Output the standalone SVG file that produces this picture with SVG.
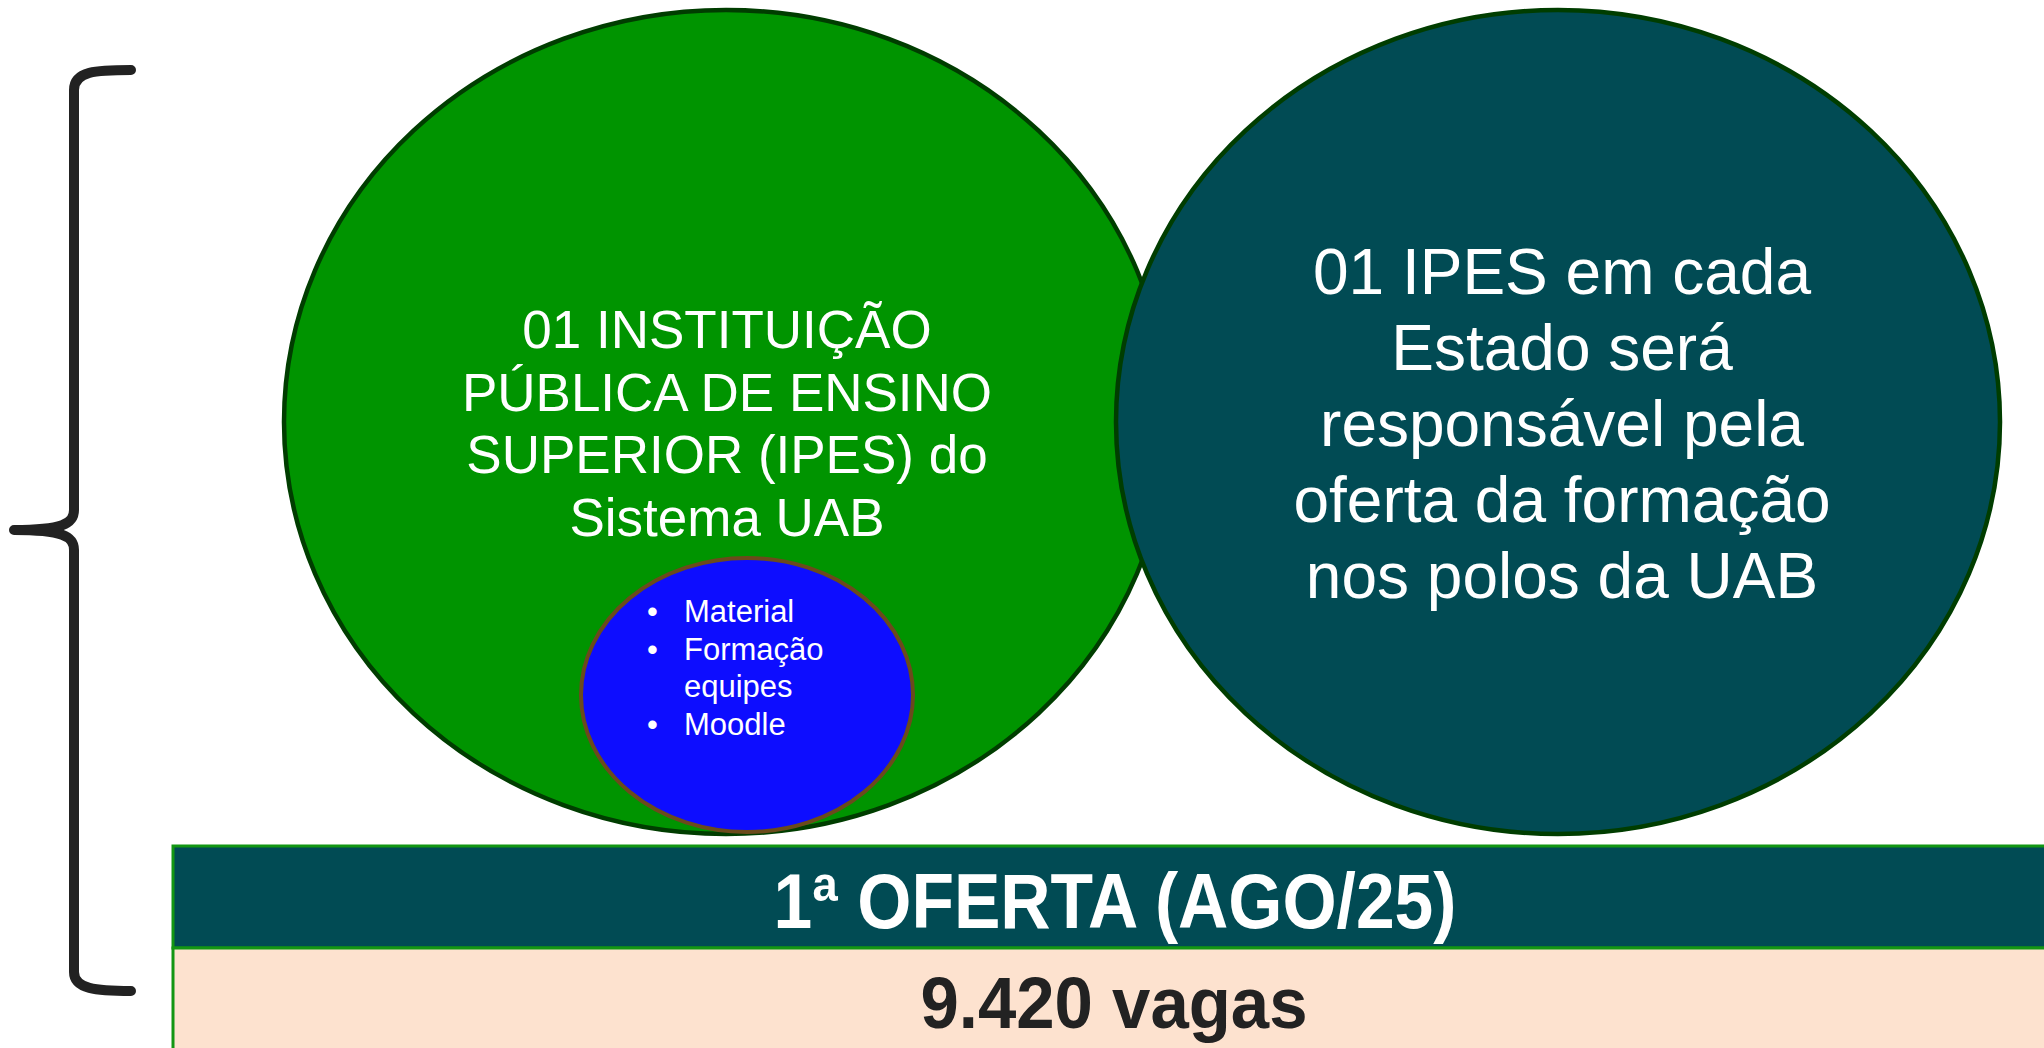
<svg xmlns="http://www.w3.org/2000/svg" width="2044" height="1048" viewBox="0 0 2044 1048">
<style>
.t{font-family:"Liberation Sans",Arial,sans-serif;fill:#ffffff}
.big{font-size:53px;text-anchor:middle}
.teal{font-size:64px;text-anchor:middle}
.bul{font-size:31px}
.ell{stroke:#003d00;stroke-width:4.5}
</style>
<rect width="2044" height="1048" fill="#ffffff"/>
<g id="brace">
<path d="M131,70 C96,70 74,71 74,90 L74,510 C74,524 62,530 14,530 C62,530 74,536 74,550 L74,972 C74,989 96,991 131,991" fill="none" stroke="#222222" stroke-width="10" stroke-linecap="round" stroke-linejoin="round"/>
</g>
<g id="node-ipes-uab">
<ellipse class="ell" cx="726" cy="422" rx="442" ry="412" fill="#009400"/>
<text class="t big"><tspan x="727" y="348">01 INSTITUIÇÃO</tspan><tspan x="727" y="411">PÚBLICA DE ENSINO</tspan><tspan x="727" y="473">SUPERIOR (IPES) do</tspan><tspan x="727" y="536">Sistema UAB</tspan></text>
</g>
<g id="node-ipes-estado">
<ellipse class="ell" cx="1558" cy="422" rx="442" ry="412" fill="#014b54"/>
<text class="t teal"><tspan x="1562" y="294">01 IPES em cada</tspan><tspan x="1562" y="370">Estado será</tspan><tspan x="1562" y="446">responsável pela</tspan><tspan x="1562" y="522">oferta da formação</tspan><tspan x="1562" y="598">nos polos da UAB</tspan></text>
</g>
<g id="node-recursos">
<ellipse cx="747" cy="695" rx="166" ry="137" fill="#0d0dff" stroke="#6b4a1c" stroke-width="4"/>
<text class="t bul"><tspan x="647" y="622">•</tspan><tspan x="684" y="622">Material</tspan></text>
<text class="t bul"><tspan x="647" y="660">•</tspan><tspan x="684" y="660">Formação</tspan></text>
<text class="t bul"><tspan x="684" y="697">equipes</tspan></text>
<text class="t bul"><tspan x="647" y="735">•</tspan><tspan x="684" y="735">Moodle</tspan></text>
</g>
<g id="connectors"></g>
<g id="node-oferta">
<rect x="173" y="846" width="1880" height="102" fill="#014b54" stroke="#139613" stroke-width="3"/>
<text x="1115" y="928" font-family="'Liberation Sans',Arial,sans-serif" font-weight="bold" font-size="78" fill="#ffffff" text-anchor="middle" textLength="683" lengthAdjust="spacingAndGlyphs">1ª OFERTA (AGO/25)</text>
</g>
<g id="node-vagas">
<rect x="173" y="948" width="1880" height="106" fill="#fde2cf" stroke="#139613" stroke-width="3"/>
<text x="1114" y="1028" font-family="'Liberation Sans',Arial,sans-serif" font-weight="bold" font-size="72" fill="#222222" text-anchor="middle" textLength="387" lengthAdjust="spacingAndGlyphs">9.420 vagas</text>
</g>
</svg>
